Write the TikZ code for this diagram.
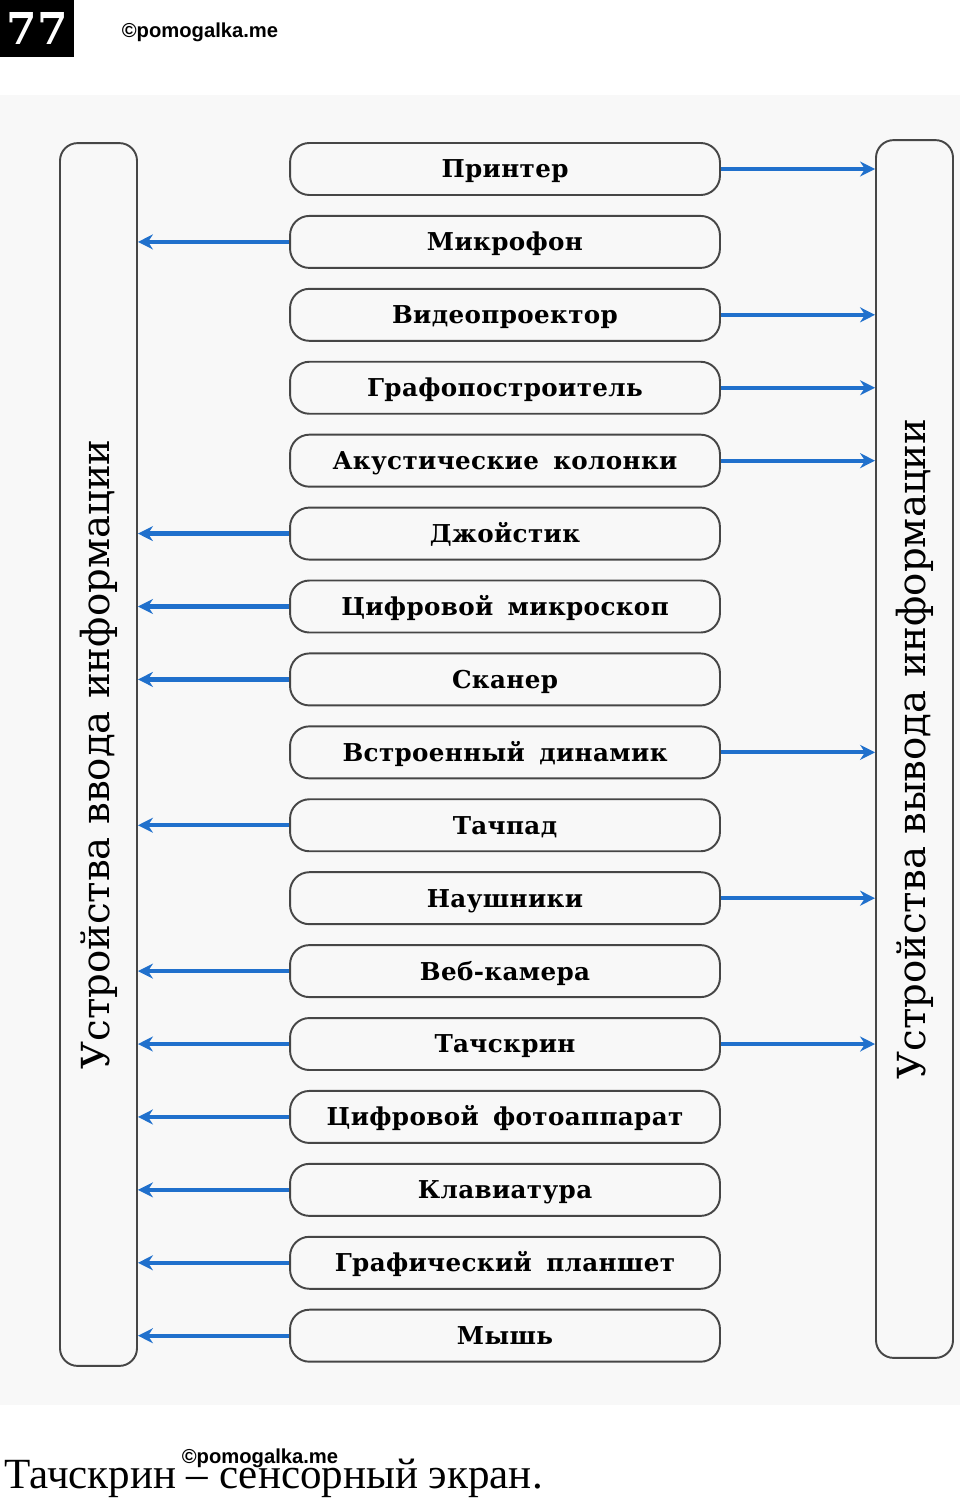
\documentclass[tikz,border=0pt]{standalone}
\usepackage{fontspec}
\setmainfont{DejaVu Serif}
\newfontfamily\boxfont[LetterSpace=1.5,WordSpace=1.6]{DejaVu Serif}
\newfontfamily\notefont{Liberation Serif}
\newfontfamily\markfont{Liberation Sans}
\usetikzlibrary{positioning,arrows.meta}
\definecolor{arrowblue}{RGB}{32,112,204}
\definecolor{boxline}{RGB}{70,70,70}
\definecolor{scanbg}{RGB}{248,248,248}
\tikzset{
  device/.style={draw=boxline,line width=1.1pt,rounded corners=11pt,
    minimum width=8.6cm,minimum height=1.04cm,inner sep=0pt,
    text height=10.2pt,text depth=0pt,
    font=\boxfont\bfseries\fontsize{14}{16}\selectfont},
  group/.style={draw=boxline,line width=1.1pt,rounded corners=10pt,
    minimum width=1.54cm,inner sep=0pt,font=\fontsize{22}{26}\selectfont},
  link/.style={arrowblue,line width=2.4pt,-{Stealth[length=8.5pt,width=8.5pt]}}
}
\begin{document}
\begin{tikzpicture}[x=0.02cm,y=-0.02cm]
  \useasboundingbox (0,0) rectangle (960,1500);
  \fill[scanbg] (0,95) rectangle (960,1405);

  % header
  \node [fill=black,text=white,minimum width=1.48cm,minimum height=1.14cm,inner sep=0pt,
    font=\bfseries\fontsize{25}{28}\selectfont] (num) at (37,28.5) {77};
  \node [font=\markfont\bfseries\fontsize{11.5}{14}\selectfont] (mark) at (200,32) {©pomogalka.me};

  % groups
  \node [group,minimum height=24.46cm] (inputs) at (98.5,754.5)
    {\rotatebox{90}{Устройства ввода информации}};
  \node [group,minimum height=24.36cm] (outputs) at (914.5,749)
    {\rotatebox{90}{Устройства вывода информации}};

  % devices
  \node [device] (b1) at (505,169) {Принтер};
  \node [device,below=0.38cm of b1] (b2) {Микрофон};
  \node [device,below=0.38cm of b2] (b3) {Видеопроектор};
  \node [device,below=0.38cm of b3] (b4) {Графопостроитель};
  \node [device,below=0.38cm of b4] (b5) {Акустические колонки};
  \node [device,below=0.38cm of b5] (b6) {Джойстик};
  \node [device,below=0.38cm of b6] (b7) {Цифровой микроскоп};
  \node [device,below=0.38cm of b7] (b8) {Сканер};
  \node [device,below=0.38cm of b8] (b9) {Встроенный динамик};
  \node [device,below=0.38cm of b9] (b10) {Тачпад};
  \node [device,below=0.38cm of b10] (b11) {Наушники};
  \node [device,below=0.38cm of b11] (b12) {Веб-камера};
  \node [device,below=0.38cm of b12] (b13) {Тачскрин};
  \node [device,below=0.38cm of b13] (b14) {Цифровой фотоаппарат};
  \node [device,below=0.38cm of b14] (b15) {Клавиатура};
  \node [device,below=0.38cm of b15] (b16) {Графический планшет};
  \node [device,below=0.38cm of b16] (b17) {Мышь};

  % input links
  \draw[link] (b2.west) -- (b2.west -| inputs.east);
  \draw[link] (b6.west) -- (b6.west -| inputs.east);
  \draw[link] (b7.west) -- (b7.west -| inputs.east);
  \draw[link] (b8.west) -- (b8.west -| inputs.east);
  \draw[link] (b10.west) -- (b10.west -| inputs.east);
  \draw[link] (b12.west) -- (b12.west -| inputs.east);
  \draw[link] (b13.west) -- (b13.west -| inputs.east);
  \draw[link] (b14.west) -- (b14.west -| inputs.east);
  \draw[link] (b15.west) -- (b15.west -| inputs.east);
  \draw[link] (b16.west) -- (b16.west -| inputs.east);
  \draw[link] (b17.west) -- (b17.west -| inputs.east);

  % output links
  \draw[link] (b1.east) -- (b1.east -| outputs.west);
  \draw[link] (b3.east) -- (b3.east -| outputs.west);
  \draw[link] (b4.east) -- (b4.east -| outputs.west);
  \draw[link] (b5.east) -- (b5.east -| outputs.west);
  \draw[link] (b9.east) -- (b9.east -| outputs.west);
  \draw[link] (b11.east) -- (b11.east -| outputs.west);
  \draw[link] (b13.east) -- (b13.east -| outputs.west);

  % note
  \node [anchor=base west,inner sep=0pt,font=\notefont\fontsize{24.5}{28}\selectfont] (note) at (4,1488)
    {Тачскрин – сенсорный экран.};
  \node [font=\markfont\bfseries\fontsize{11.5}{14}\selectfont] (mark2) at (260,1458) {©pomogalka.me};
\end{tikzpicture}
\end{document}
